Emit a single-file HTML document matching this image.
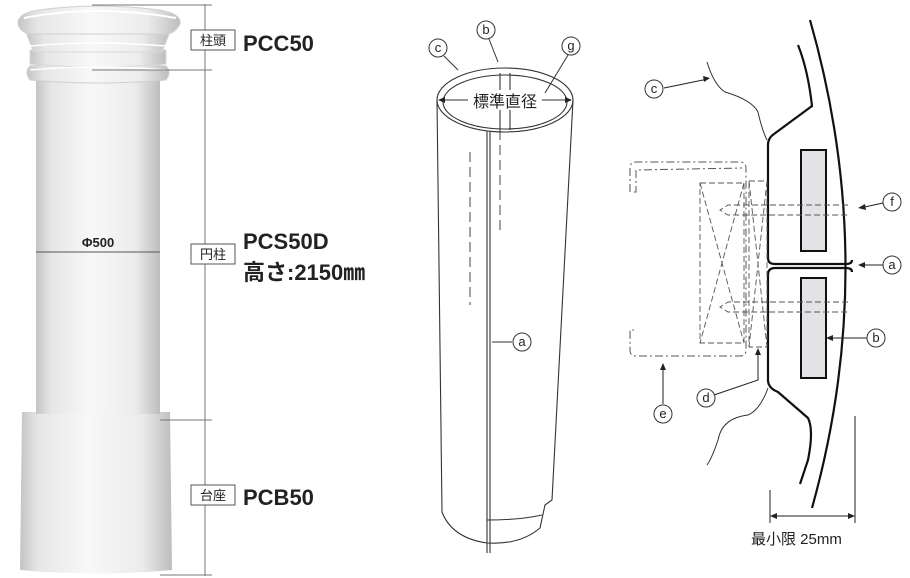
<!DOCTYPE html>
<html><head><meta charset="utf-8"><style>
body{margin:0;background:#fff;width:910px;height:578px;overflow:hidden}
svg{display:block}
text{font-family:"Liberation Sans","Noto Sans CJK JP",sans-serif}
</style></head><body>
<svg width="910" height="578" viewBox="0 0 910 578" xmlns="http://www.w3.org/2000/svg">
<defs>
<linearGradient id="cg" x1="0" x2="1"><stop offset="0" stop-color="#c4c4c4"/><stop offset="0.12" stop-color="#e6e6e6"/><stop offset="0.45" stop-color="#f8f8f8"/><stop offset="0.8" stop-color="#ececec"/><stop offset="1" stop-color="#bdbdbd"/></linearGradient>
</defs>
<path d="M22,412 L170,412 L172,570 Q96,577 20,570 Z" fill="url(#cg)"/>
<rect x="36" y="74" width="124" height="340" fill="url(#cg)"/>
<path d="M30,66 Q96,60 166,66 Q172,72 166,80 Q96,86 30,80 Q24,72 30,66 Z" fill="url(#cg)" stroke="#d0d0d0"/>
<path d="M30,50 L166,50 L166,64 Q96,70 30,64 Z" fill="url(#cg)" stroke="#d8d8d8"/>
<path d="M26,32 Q30,44 34,52 L162,52 Q166,42 170,32 Z" fill="url(#cg)" stroke="#d8d8d8"/>
<path d="M18,22 Q20,12 40,10 Q96,2 160,10 Q182,14 180,24 Q176,32 168,34 L28,34 Q18,30 18,22 Z" fill="url(#cg)" stroke="#d0d0d0"/>
<path d="M24,18 Q96,4 176,18" fill="none" stroke="#fff" stroke-width="2"/>
<path d="M30,46 Q96,40 166,46" fill="none" stroke="#fff" stroke-width="1.5"/>
<path d="M30,70 Q96,64 166,70" fill="none" stroke="#fff" stroke-width="1.5"/>
<line x1="36" y1="252" x2="160" y2="252" stroke="#555" stroke-width="1"/>
<text x="98" y="247" font-size="13" font-weight="bold" text-anchor="middle" fill="#222">Φ500</text>
<g stroke="#777" stroke-width="1">
<line x1="205" y1="4" x2="205" y2="576"/>
<line x1="92" y1="5" x2="212" y2="5"/>
<line x1="92" y1="70" x2="212" y2="70"/>
<line x1="160" y1="420" x2="212" y2="420"/>
<line x1="160" y1="575" x2="212" y2="575"/>
</g>
<g font-size="13" fill="#222">
<rect x="191" y="30" width="44" height="20" fill="#fff" stroke="#555"/><text x="213" y="45" text-anchor="middle">柱頭</text>
<rect x="191" y="244" width="44" height="20" fill="#fff" stroke="#555"/><text x="213" y="259" text-anchor="middle">円柱</text>
<rect x="191" y="485" width="44" height="20" fill="#fff" stroke="#555"/><text x="213" y="500" text-anchor="middle">台座</text>
</g>
<g font-size="22" font-weight="bold" fill="#222">
<text x="243" y="51">PCC50</text>
<text x="243" y="249">PCS50D</text>
<text x="243" y="280">高さ:2150㎜</text>
<text x="243" y="505">PCB50</text>
</g>
<g fill="none" stroke="#333" stroke-width="1.1">
<path d="M437,100 L442,512 Q452,538 487,543 Q520,545 540,528 L545,505 L552,500 L573,100"/>
<path d="M487,520 Q520,520 542,515"/>
<ellipse cx="505" cy="100" rx="68" ry="32"/>
<ellipse cx="505" cy="102" rx="62" ry="27"/>
<line x1="487" y1="131" x2="487" y2="553"/>
<line x1="490" y1="131" x2="490" y2="553"/>
<line x1="500" y1="73" x2="500" y2="90"/>
<line x1="510" y1="73" x2="510" y2="90"/>
<line x1="500" y1="110" x2="500" y2="130"/>
<line x1="510" y1="110" x2="510" y2="130"/>
</g>
<g stroke="#333" stroke-dasharray="10,5" fill="none" stroke-width="0.9">
<line x1="470" y1="152" x2="470" y2="305"/><line x1="500" y1="130" x2="500" y2="235"/>
</g>
<text x="505" y="107" font-size="16" text-anchor="middle" fill="#222">標準直径</text>
<g stroke="#333" fill="none" stroke-width="1">
<line x1="440" y1="100" x2="468" y2="100"/><line x1="542" y1="100" x2="570" y2="100"/>
<line x1="444" y1="56" x2="458" y2="70"/><line x1="489" y1="39" x2="498" y2="62"/>
<line x1="568" y1="55" x2="545" y2="93"/><line x1="512" y1="342" x2="492" y2="342"/>
</g>
<g fill="#222"><path d="M438,100 l7,-3 v6z"/><path d="M572,100 l-7,-3 v6z"/></g>
<g font-size="13" fill="#222" text-anchor="middle">
<circle cx="438" cy="48" r="9" fill="#fff" stroke="#333"/><text x="438" y="52">c</text>
<circle cx="486" cy="30" r="9" fill="#fff" stroke="#333"/><text x="486" y="34">b</text>
<circle cx="571" cy="46" r="9" fill="#fff" stroke="#333"/><text x="571" y="50">g</text>
<circle cx="522" cy="342" r="9" fill="#fff" stroke="#333"/><text x="522" y="346">a</text>
</g>
<g fill="none" stroke="#111" stroke-width="2.2">
<path d="M810,20 Q880,265 812,508"/>
<path d="M798,45 Q808,70 812,106 L774,134 Q768,138 768,145 L768,258 Q768,264 775,264 L846,264 Q852,264 852,260"/>
<path d="M852,272 Q852,268 846,268 L775,268 Q768,268 768,275 L768,380 Q768,388 778,392 L808,418 Q814,430 808,460 L800,484"/>
</g>
<rect x="801" y="150" width="25" height="101" fill="#e3e3e6" stroke="#111" stroke-width="2"/>
<rect x="801" y="278" width="25" height="100" fill="#e3e3e6" stroke="#111" stroke-width="2"/>
<g fill="none" stroke="#333" stroke-width="1">
<path d="M707,62 Q714,85 725,92 Q752,100 758,112 Q762,130 767,140"/>
<path d="M768,388 Q760,410 748,415 Q722,418 718,440 Q712,458 707,465"/>
</g>
<g fill="none" stroke="#555" stroke-width="1" stroke-dasharray="8,3,2,3">
<path d="M630,192 L630,168 Q630,162 636,162 L740,162 Q746,162 746,168 L746,350 Q746,356 740,356 L636,356 Q630,356 630,350 L630,330 L634,330"/>
<path d="M634,192 L636,192 L636,170 L742,168"/>
</g>
<g fill="none" stroke="#555" stroke-width="0.9" stroke-dasharray="6,3">
<rect x="700" y="183" width="44" height="160"/>
<line x1="700" y1="183" x2="744" y2="343"/><line x1="744" y1="183" x2="700" y2="343"/>
<rect x="749" y="181" width="18" height="166"/>
<line x1="749" y1="181" x2="767" y2="347"/><line x1="767" y1="181" x2="749" y2="347"/>
<path d="M848,205 L728,205 L720,210 L728,215 L848,215"/>
<path d="M848,302 L728,302 L720,307 L728,312 L848,312"/>
</g>
<g stroke="#222" stroke-width="1" fill="none">
<line x1="664" y1="88" x2="708" y2="79"/><line x1="883" y1="203" x2="860" y2="208"/>
<line x1="883" y1="265" x2="860" y2="265"/><line x1="867" y1="338" x2="827" y2="338"/>
<path d="M714,395 L758,380 L758,350"/><line x1="663" y1="404" x2="663" y2="365"/>
<line x1="770" y1="490" x2="770" y2="523"/><line x1="855" y1="416" x2="855" y2="523"/>
<line x1="772" y1="516" x2="853" y2="516"/>
</g>
<g fill="#222">
<path d="M770,516 l7,-3 v6z"/><path d="M855,516 l-7,-3 v6z"/>
<path d="M710,78 l-7,-2 l1,6z"/><path d="M858,208 l7,-4 l1,6z"/><path d="M858,265 l7,-3 v6z"/>
<path d="M826,338 l7,-3 v6z"/><path d="M758,348 l-3,7 h6z"/><path d="M663,363 l-3,7 h6z"/>
</g>
<g font-size="13" fill="#222" text-anchor="middle">
<circle cx="654" cy="89" r="9" fill="#fff" stroke="#333"/><text x="654" y="93">c</text>
<circle cx="892" cy="202" r="9" fill="#fff" stroke="#333"/><text x="892" y="206">f</text>
<circle cx="892" cy="265" r="9" fill="#fff" stroke="#333"/><text x="892" y="269">a</text>
<circle cx="876" cy="338" r="9" fill="#fff" stroke="#333"/><text x="876" y="342">b</text>
<circle cx="706" cy="398" r="9" fill="#fff" stroke="#333"/><text x="706" y="402">d</text>
<circle cx="663" cy="414" r="9" fill="#fff" stroke="#333"/><text x="663" y="418">e</text>
</g>
<text x="751" y="544" font-size="15" fill="#222">最小限 25mm</text>
</svg>
</body></html>
